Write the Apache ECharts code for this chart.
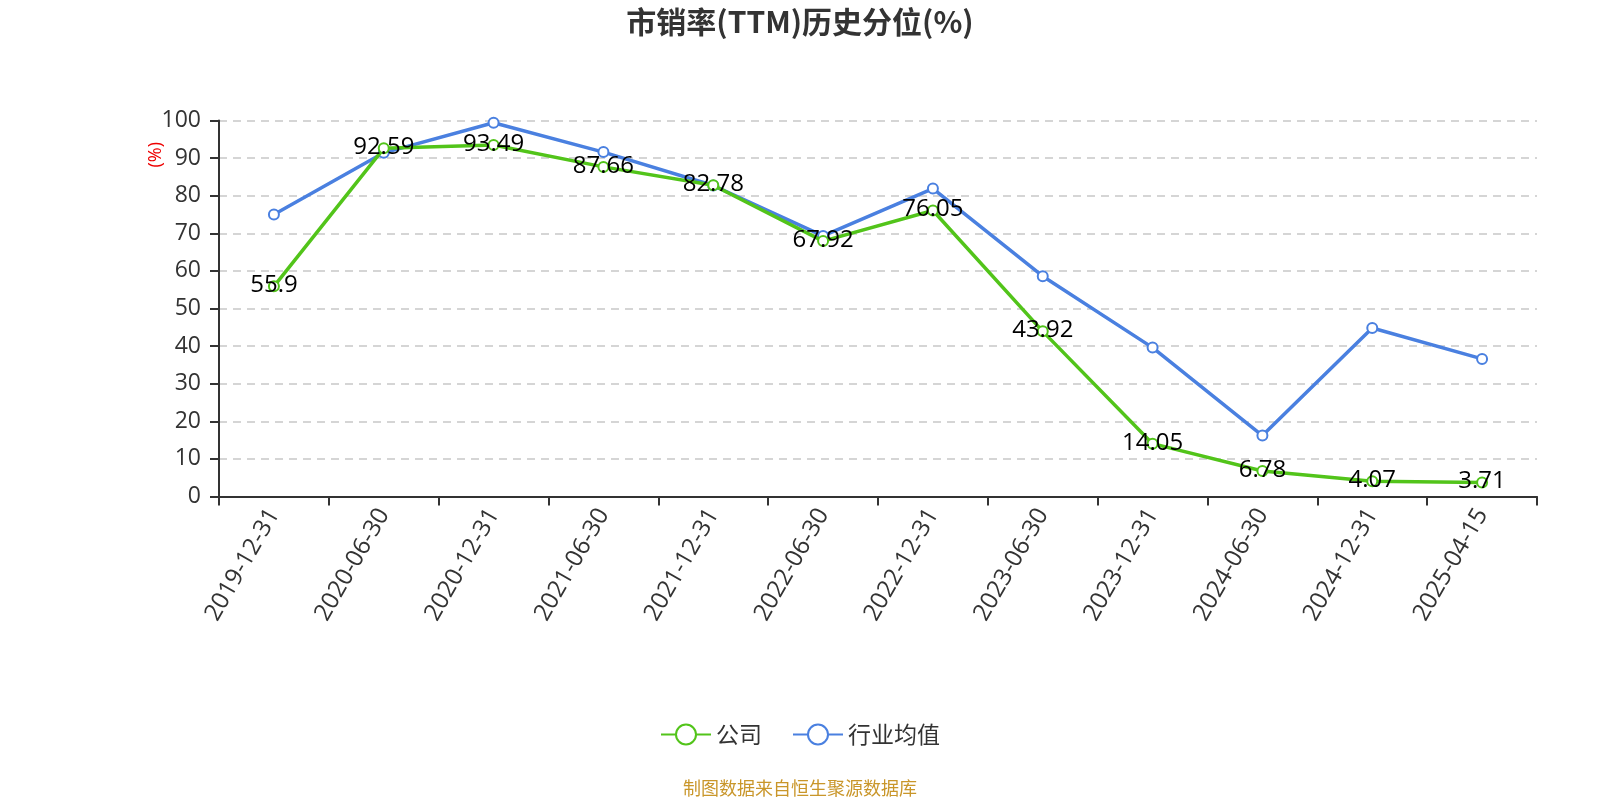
<!DOCTYPE html>
<html>
<head>
<meta charset="utf-8">
<script src="https://cdn.jsdelivr.net/npm/echarts@6/dist/echarts.min.js"></script>
<style>html,body{margin:0;padding:0;background:#fff;}#c{width:1600px;height:800px;}</style>
</head>
<body>
<div id="c"></div>
<script>
var categories = ['2019-12-31','2020-06-30','2020-12-31','2021-06-30','2021-12-31','2022-06-30','2022-12-31','2023-06-30','2023-12-31','2024-06-30','2024-12-31','2025-04-15'];
var companyValues = [55.9, 92.59, 93.49, 87.66, 82.78, 67.92, 76.05, 43.92, 14.05, 6.78, 4.07, 3.71];
var industryValues = [75.0, 91.4, 99.4, 91.6, 82.7, 69.3, 81.9, 58.6, 39.6, 16.2, 44.8, 36.6];
var seriesNames = ['公司', '行业均值'];
var titleText = '市销率(TTM)历史分位(%)';
var footerText = '制图数据来自恒生聚源数据库';

var FONT = '"Open Sans", "Noto Sans CJK SC", sans-serif';
var chart = echarts.init(document.getElementById('c'));
chart.setOption({
  backgroundColor: '#fff',
  textStyle: { fontFamily: FONT },
  title: {
    text: titleText, left: 'center', top: 2,
    textStyle: { fontSize: 30, fontWeight: 'bold', color: '#333', fontFamily: '"Noto Sans CJK SC", sans-serif' }
  },
  legend: {
    data: seriesNames, bottom: 49, left: 'center',
    itemWidth: 50, itemHeight: 25, itemGap: 30,
    textStyle: { fontSize: 23, color: '#333', fontFamily: '"Noto Sans CJK SC", sans-serif' }
  },
  grid: { left: 219, right: 63, top: 120.5, bottom: 303.5 },
  xAxis: {
    type: 'category', data: categories, boundaryGap: true,
    axisLine: { lineStyle: { color: '#333', width: 2 } },
    axisTick: { show: true, alignWithLabel: false, length: 9, lineStyle: { color: '#333', width: 2 } },
    axisLabel: { rotate: 60, fontSize: 24, color: '#333', margin: 14, interval: 0 }
  },
  yAxis: {
    type: 'value', min: 0, max: 100, interval: 10,
    axisLine: { show: true, lineStyle: { color: '#333', width: 2 } },
    axisTick: { show: true, length: 9, lineStyle: { color: '#333', width: 2 } },
    axisLabel: { fontSize: 23, color: '#333', margin: 18 },
    splitLine: { show: true, lineStyle: { type: [8, 6], color: '#c8c8c8', width: 1.5 } }
  },
  graphic: [
    { type: 'text', left: 147, top: 142, rotation: Math.PI / 2,
      style: { text: '(%)', fill: '#e00', fontSize: 18, fontFamily: FONT } },
    { type: 'text', left: 'center', top: 779,
      style: { text: footerText, fill: '#c9962a', fontSize: 18, fontFamily: '"Noto Sans CJK SC", sans-serif' } }
  ],
  series: [
    {
      name: seriesNames[0], type: 'line', data: companyValues,
      symbol: 'emptyCircle', symbolSize: 10, z: 3,
      itemStyle: { color: '#52c41a', borderWidth: 2 },
      lineStyle: { width: 3.5, color: '#52c41a' },
      label: { show: true, position: 'inside', offset: [0, -1], fontSize: 24, color: '#000', fontFamily: FONT }
    },
    {
      name: seriesNames[1], type: 'line', data: industryValues,
      symbol: 'emptyCircle', symbolSize: 10, z: 2,
      itemStyle: { color: '#4a80e0', borderWidth: 2 },
      lineStyle: { width: 3.5, color: '#4a80e0' },
      label: { show: false }
    }
  ]
});
</script>
</body>
</html>
